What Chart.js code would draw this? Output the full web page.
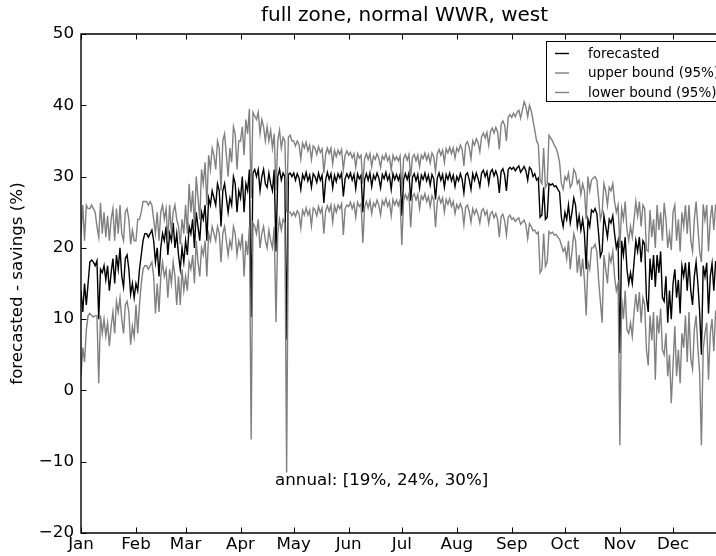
<!DOCTYPE html>
<html>
<head>
<meta charset="utf-8">
<script src="https://cdn.jsdelivr.net/npm/chart.js@4.4.0/dist/chart.umd.min.js"></script>
<style>
  html, body { margin: 0; padding: 0; overflow: hidden; background: #fff; }
  #wrap { width: 745px; height: 556px; }
</style>
</head>
<body>
<div id="wrap"><canvas id="chart" width="745" height="556"></canvas></div>
<script>
// month tick positions (day of year) and their labels
const monthStarts = [0, 31, 59, 90, 120, 151, 181, 212, 243, 273, 304, 334];
const monthLabels = ["Jan", "Feb", "Mar", "Apr", "May", "Jun", "Jul", "Aug", "Sep", "Oct", "Nov", "Dec"];
const yTicks = [-20, -10, 0, 10, 20, 30, 40, 50];

// daily forecasted savings (%), one row per month
const forecasted = [
  14, 11, 15, 12, 15, 18, 18.3, 18, 17.5, 18.2, 10, 17, 16.5, 17.5, 15.5, 17.5, 14, 16.5, 18.5, 15, 19, 17, 20, 16, 14.5, 18.5, 19, 17, 13.5, 15, 13,
  15, 14, 17, 19, 21, 22, 22, 21.5, 22, 22.5, 21, 18, 20, 16, 20, 22, 21, 23, 19, 22, 21, 23.5, 20, 22, 19, 17, 20, 18,
  21, 19, 23, 22, 24, 20, 25, 23, 21, 25, 24, 26, 21, 27, 26, 28, 27, 26, 29, 28, 23, 28, 29, 27, 25, 27, 26, 30, 29, 25, 28,
  27, 30, 25, 29, 28, 31, 10.3, 30.5, 31, 30, 31, 28, 30, 31, 29, 28.5, 30.5, 29, 28, 31, 19.5, 30, 31, 29.5, 30.5, 30, 7.1, 30.3, 30.5, 30,
  30.5, 29.5, 30.4, 29.8, 28.2, 30.3, 29.6, 30.6, 29.4, 30.2, 28.5, 30.4, 30, 29.2, 30.5, 29.5, 30.2, 26.3, 29.5, 30.6, 29.6, 30.4, 28.4, 30.2, 29.3, 30.4, 29.8, 30.5, 27.2, 29.7, 30.4,
  29.8, 30.5, 29.5, 30.3, 28.3, 30.4, 29.7, 30.2, 25, 29.6, 30.4, 29.5, 30.5, 28.6, 30.2, 29.6, 30.5, 29.8, 28.4, 30.3, 29.7, 30.6, 29.5, 30.2, 28.2, 30.4, 29.6, 30.3, 29.5, 30.3,
  24.5, 29.6, 30.4, 29.6, 30.5, 26.6, 29.9, 30.4, 29.4, 30.3, 28.4, 30.2, 29.6, 30.5, 29.4, 30.2, 28.8, 30.3, 29.7, 26.8, 29.8, 30.5, 29.5, 30.3, 28.5, 30.3, 29.6, 30.5, 29.4, 30.2, 28.6,
  30, 29.4, 30.4, 29.6, 27.7, 30.2, 30.5, 29.6, 28.2, 30.4, 29.5, 30.5, 29.7, 28.6, 30.5, 30.9, 30, 30.7, 29, 30.6, 31, 30.1, 30.8, 30, 27.7, 30.7, 31.1, 30.2, 28, 31, 31.3,
  31, 31.3, 30.8, 31.2, 31.5, 30.6, 31, 31.4, 30.8, 29.5, 31.3, 31, 30, 30.4, 29.5, 29.8, 24.3, 24.6, 28.5, 24, 24.3, 29, 28.8, 29, 28.6, 28.7, 28.2, 27.8, 24.3, 23,
  25, 24, 26, 23.5, 25, 27, 26, 23, 24.5, 22.5, 24, 22, 17, 24, 23, 25.3, 25, 25.5, 24.8, 22, 18.8, 19.5, 24.5, 23, 21.5, 24, 23.5, 24.5, 22, 20, 21,
  5.2, 21, 19, 21.5, 17, 15, 16.5, 15, 18, 21, 19.5, 21.5, 18, 21, 20.5, 13, 11, 18.5, 15.5, 19, 14.5, 19, 16.5, 19.5, 13, 12.5, 16, 9.5, 14, 10,
  15, 17, 13, 15.5, 10.8, 17.5, 16, 17.9, 14, 18, 14, 12, 16, 18, 15, 11, 5, 17.5, 16, 17.9, 10.8, 16, 17.8, 14, 18, 17.8, 11.5, 10.5, 17, 15, 17.3
];

// upper bound (95%)
const upperBound = [
  22, 26, 21, 26, 25.5, 25.5, 26, 25.5, 25, 23, 21.5, 26.3, 22, 25, 21.5, 24.5, 21, 24, 25.5, 21, 25.5, 22, 26, 22, 21, 25, 25.5, 24, 20.5, 22.5, 21,
  21, 24, 24, 25, 26.5, 26.5, 26.5, 26, 26.5, 26, 24, 22, 25, 21, 25, 26, 24, 25.5, 21, 26, 22, 25, 26, 24, 23, 20.5, 24, 22,
  26, 22, 29, 25, 28, 23, 30, 27, 24, 31, 29, 32, 26, 33, 31, 34, 33, 31, 35, 34, 28, 35, 36, 33, 30, 34, 32, 37, 36, 31, 35,
  35, 37, 33, 38, 36, 39.5, 27, 39, 38.5, 38, 39, 36, 38, 37, 35, 37, 35, 36.5, 34, 36, 28, 35, 36.5, 34, 35.5, 35, 25, 35.5, 35.8, 35,
  35, 34.3, 35, 34.5, 32.5, 34.7, 34, 34.8, 33.6, 34.4, 32.4, 34.3, 34, 33.1, 34.2, 33.4, 33.9, 30.5, 33.1, 34, 33.2, 34, 31.8, 33.7, 32.8, 33.7, 33.1, 33.8, 31, 33, 33.6,
  33, 33.4, 32.6, 33.2, 31.3, 33.2, 32.6, 33, 29, 32.5, 33.2, 32.4, 33.2, 31.4, 32.9, 32.4, 33.2, 32.6, 31.3, 32.9, 32.4, 33.2, 32.2, 32.8, 30.9, 33, 32.3, 32.8, 32.2, 32.9,
  28, 32.5, 33.1, 32.3, 33.1, 30, 32.7, 33.1, 32.2, 33, 31.4, 33, 32.5, 33.3, 32.3, 33.1, 31.9, 33.3, 32.8, 30.7, 33.2, 33.8, 33, 33.7, 32, 33.9, 33.3, 34.1, 33.2, 34, 32.6,
  34, 33.5, 34.4, 33.8, 31.5, 34.5, 34.9, 34.1, 32.5, 35, 34.4, 35.3, 34.8, 33.5, 35.6, 36.1, 35.4, 36.2, 34.4, 36.3, 36.8, 36.1, 36.9, 36.3, 33.8, 37.3, 37.8, 37.2, 35, 38.3, 38.7,
  38.3, 38.9, 38.4, 39, 39.3, 38.2, 39.4, 40.5, 39.8, 38.4, 40, 39.2, 37.9, 36.5, 35, 34.5, 29.5, 29, 34, 28.5, 29, 35.8, 35.4, 35, 34.4, 34, 33.2, 32, 29, 28.2,
  30, 29.5, 30.5, 28.5, 29, 31, 30.5, 29, 29.5, 27.5, 29, 28, 24, 30, 28, 29.5, 29.8, 30, 29.5, 27, 24, 25, 29, 28, 26, 28.5, 28, 29, 26.5, 25, 26,
  20, 25.5, 24, 26.5, 22.5, 21, 23, 21.5, 24, 26.5, 24.5, 26.5, 23, 26, 25.5, 19.7, 19.5, 25.3, 21.5, 24, 20, 26, 22.5, 25, 21, 26.3, 24, 20, 22, 19.7,
  25, 26, 21, 24, 19.5, 25, 23, 26, 22, 26, 21, 19.5, 24, 26.5, 23, 19.5, 18, 26.1, 24, 26, 19.5, 24, 26, 22.5, 26, 26, 21, 19.5, 25.5, 23, 25.5
];

// lower bound (95%)
const lowerBound = [
  2, 6, 4, 8.5, 10.5, 10.8, 10.5, 10.3, 10.5, 10.5, 1, 10.5, 8, 10, 7.6, 9.5, 6.2, 9, 11, 8, 12.5, 11, 13, 10, 8, 12, 12.5, 11, 6.4, 9, 7.5,
  12, 8, 12, 15, 17, 17.5, 17.5, 17, 17.5, 18, 16, 10.8, 15, 11, 16, 18, 16, 17, 13, 17, 15, 18, 16, 12, 16, 12, 17, 14,
  16, 14, 18, 17, 19, 15, 21, 18, 16, 20, 19, 21, 16, 22, 21, 23, 22, 21, 23, 22, 18, 22, 23, 21, 19, 21, 20, 23, 22, 19, 21,
  20, 22, 16, 21, 19, 23, -6.9, 23.5, 23, 22, 24, 20, 22, 23, 21, 20, 22.5, 21, 20, 23, 9.6, 22, 24, 22.5, 24, 23.5, -11.5, 25, 25, 24.5,
  25, 24.4, 25.2, 24.8, 22.8, 25.3, 24.6, 25.6, 24.6, 25.3, 23.1, 25.6, 25.3, 24.5, 25.8, 24.9, 25.6, 22, 25.2, 25.9, 25.1, 26, 23.6, 25.9, 25, 26, 25.5, 26.2, 21.8, 25.5, 26,
  25.8, 26.4, 25.5, 26.2, 24.3, 26.4, 25.8, 26.2, 20.7, 25.7, 26.5, 25.6, 26.6, 24.8, 26.3, 25.8, 26.7, 26, 24.6, 26.6, 26, 26.9, 25.8, 26.5, 24.5, 26.8, 26, 26.7, 25.9, 26.7,
  20.4, 26.7, 27.5, 26.8, 27.6, 22.9, 27.2, 27.6, 26.7, 27.5, 25.5, 27.3, 26.8, 27.6, 26.5, 27.2, 25.8, 27.3, 26.7, 22.9, 26.5, 27.2, 26.3, 27, 25, 26.8, 26.1, 26.9, 25.8, 26.5, 24.8,
  26.1, 25.5, 26.2, 25.5, 23.2, 25.7, 26, 25.1, 23.6, 25.5, 24.7, 25.4, 24.7, 23.5, 25.2, 25.5, 24.6, 25.2, 23.4, 24.8, 25.1, 24.2, 24.8, 24, 21.5, 24.4, 24.7, 23.8, 21.8, 24.3, 24.6,
  24, 24.2, 23.7, 24, 24.2, 23.3, 23.6, 23.9, 23.2, 21.3, 23.4, 23, 22.4, 22.5, 22, 22.2, 16.5, 17, 22, 17.4, 18, 22.3, 22, 22.2, 21.8, 21.9, 21.5, 21.2, 20.4, 19.5,
  20, 18.5, 21, 17, 19.5, 22, 21, 16.5, 19, 16, 18.5, 15.5, 10.5, 18, 17, 20, 20, 20.5, 19.5, 15.5, 12.5, 9.5, 19, 17, 15, 19, 18, 19.5, 16, 14, 15,
  -7.7, 13, 10, 14, 8.5, 8, 9.5, 7.6, 11, 13.5, 11, 13.8, 9.5, 13, 12, 5.7, 3.5, 10.5, 7, 11, 1.5, 10.5, 8, 11.5, 5.7, 5, 8, 2, 5, -1.8,
  3.5, 9, 2, 5.7, 1, 8, 6, 10.5, 4, 11, 4.5, 3, 8.5, 10.5, 6, 2.5, -7.7, 5.7, 8, 9.5, 1.5, 8, 10, 5.5, 11, 10.5, 4, 2.5, 9.5, 6.5, 9.5
];

const seriesNames = ["forecasted", "upper bound (95%)", "lower bound (95%)"];
const annualText = "annual: [19%, 24%, 30%]";
const titleText = "full zone, normal WWR, west";

const toPoints = (arr) => arr.map((v, i) => ({ x: i, y: v }));
const FONT = "'DejaVu Sans', 'Liberation Sans', sans-serif";

// axes frame, inward ticks, title, legend box and annotation (matplotlib look)
const decorations = {
  id: "decorations",
  afterDraw(chart) {
    const { ctx, chartArea: a, scales } = chart;
    const xs = scales.x, ys = scales.y;
    ctx.save();
    ctx.strokeStyle = "#000";
    ctx.lineWidth = 1.4;
    ctx.beginPath();
    ctx.moveTo(a.right, a.top);
    ctx.lineTo(a.left, a.top);
    ctx.lineTo(a.left, a.bottom);
    ctx.lineTo(a.right, a.bottom);
    ctx.lineTo(a.right, a.top);
    ctx.stroke();

    ctx.lineWidth = 1;
    ctx.beginPath();
    monthStarts.forEach((d) => {
      const px = Math.round(xs.getPixelForValue(d)) + 0.5;
      ctx.moveTo(px, a.bottom);
      ctx.lineTo(px, a.bottom - 5.5);
      ctx.moveTo(px, a.top);
      ctx.lineTo(px, a.top + 5.5);
    });
    yTicks.forEach((v) => {
      const py = Math.round(ys.getPixelForValue(v)) + 0.5;
      ctx.moveTo(a.left, py);
      ctx.lineTo(a.left + 5.5, py);
      ctx.moveTo(a.right, py);
      ctx.lineTo(a.right - 5.5, py);
    });
    ctx.stroke();

    // title
    ctx.fillStyle = "#000";
    ctx.font = "20px " + FONT;
    ctx.textAlign = "center";
    ctx.textBaseline = "alphabetic";
    ctx.fillText(titleText, (a.left + a.right) / 2, 21);

    // annotation
    ctx.font = "16.7px " + FONT;
    ctx.textAlign = "left";
    ctx.fillText(annualText, 275, 485);

    // legend
    const bx = 546, by = 41, bw = 176, bh = 60;
    ctx.fillStyle = "#fff";
    ctx.fillRect(bx, by, bw, bh);
    ctx.strokeStyle = "#000";
    ctx.lineWidth = 1;
    ctx.strokeRect(bx + 0.5, by + 0.5, bw, bh);
    const colors = ["#000", "#808080", "#808080"];
    ctx.font = "13.5px " + FONT;
    ctx.textBaseline = "middle";
    seriesNames.forEach((name, i) => {
      const ry = by + 12.5 + i * 19.5;
      ctx.strokeStyle = colors[i];
      ctx.lineWidth = 1.4;
      ctx.beginPath();
      ctx.moveTo(555, ry);
      ctx.lineTo(569, ry);
      ctx.stroke();
      ctx.fillStyle = "#000";
      ctx.fillText(name, 588, ry + 0.5);
    });
    ctx.restore();
  }
};

new Chart(document.getElementById("chart"), {
  type: "line",
  data: {
    datasets: [
      { label: seriesNames[0], data: toPoints(forecasted), borderColor: "#000", borderWidth: 1.4, order: 2 },
      { label: seriesNames[1], data: toPoints(upperBound), borderColor: "#808080", borderWidth: 1.4, order: 1 },
      { label: seriesNames[2], data: toPoints(lowerBound), borderColor: "#808080", borderWidth: 1.4, order: 1 }
    ]
  },
  options: {
    responsive: false,
    animation: false,
    devicePixelRatio: 1,
    layout: { padding: { left: 0, right: 17, top: 34, bottom: 0 } },
    elements: { point: { radius: 0 }, line: { tension: 0 } },
    plugins: { legend: { display: false }, title: { display: false }, tooltip: { enabled: false } },
    scales: {
      x: {
        type: "linear",
        min: 0,
        max: 365,
        grid: { display: false, drawTicks: false },
        border: { display: false },
        afterFit: (s) => { s.height = 23; },
        afterBuildTicks: (s) => { s.ticks = monthStarts.map((v) => ({ value: v })); },
        ticks: {
          autoSkip: false,
          maxRotation: 0,
          padding: 2,
          color: "#000",
          font: { family: FONT, size: 16.7 },
          callback: (v) => monthLabels[monthStarts.indexOf(v)]
        }
      },
      y: {
        min: -20,
        max: 50,
        grid: { display: false, drawTicks: false },
        border: { display: false },
        afterFit: (s) => { s.width = 81; },
        afterBuildTicks: (s) => { s.ticks = yTicks.map((v) => ({ value: v })); },
        ticks: {
          padding: 7,
          color: "#000",
          font: { family: FONT, size: 16.7 },
          callback: (v) => (v < 0 ? "\u2212" + Math.abs(v) : String(v))
        },
        title: {
          display: true,
          text: "forecasted - savings (%)",
          color: "#000",
          font: { family: FONT, size: 16.7 },
          padding: { top: 8, bottom: 0 }
        }
      }
    }
  },
  plugins: [decorations]
});
</script>
</body>
</html>
